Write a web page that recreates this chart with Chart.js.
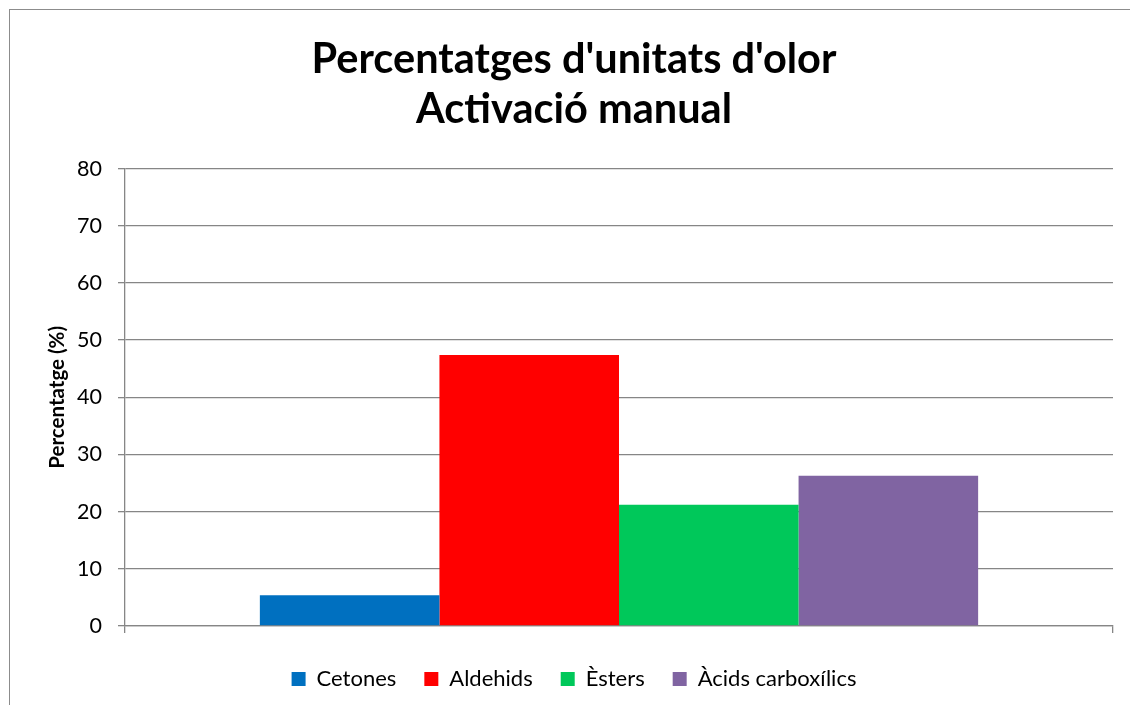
<!DOCTYPE html>
<html>
<head>
<meta charset="utf-8">
<script src="https://cdn.jsdelivr.net/npm/chart.js@4"></script>
<style>
  html, body { margin: 0; padding: 0; background: #fff; overflow: hidden; }
  #wrap { position: relative; width: 1130px; height: 705px; }
  #frame { position: absolute; left: 9px; top: 9px; width: 1300px; height: 900px; border: 1px solid #8c8c8c; }
  canvas { position: absolute; left: 0; top: 0; }
</style>
</head>
<body>
<div id="wrap">
  <div id="frame"></div>
  <canvas id="chart" width="1130" height="705"></canvas>
</div>
<script>
const categories = [''];
const seriesNames = ['Cetones', 'Aldehids', 'Èsters', 'Àcids carboxílics'];
const seriesValues = [[5.4], [47.4], [21.2], [26.3]];
const seriesColors = ['#0070c0', '#ff0000', '#00c85a', '#8064a2'];
const titleLines = ["Percentatges d'unitats d'olor", 'Activació manual'];
const yTitle = 'Percentatge (%)';

const FONT = 'Lato, "Open Sans", sans-serif';
const GRID = '#868686';

const datasets = seriesNames.map((name, i) => ({
  label: name,
  data: seriesValues[i],
  backgroundColor: seriesColors[i],
  borderWidth: 0,
  categoryPercentage: 0.727,
  barPercentage: 1.0
}));

new Chart(document.getElementById('chart').getContext('2d'), {
  type: 'bar',
  data: { labels: categories, datasets: datasets },
  options: {
    responsive: false,
    animation: false,
    layout: { padding: { left: 35, right: 17, top: 10, bottom: 5 } },
    plugins: {
      title: {
        display: true,
        text: titleLines,
        color: '#000',
        font: { family: FONT, size: 41.5, weight: 'bold', lineHeight: 1.2 },
        padding: { top: 25, bottom: 34 }
      },
      legend: {
        position: 'bottom',
        labels: {
          color: '#000',
          font: { family: FONT, size: 22 },
          boxWidth: 14,
          boxHeight: 14,
          padding: 28
        }
      },
      tooltip: { enabled: false }
    },
    scales: {
      x: {
        grid: { drawOnChartArea: false, color: GRID, lineWidth: 1.3, tickLength: 7 },
        border: { color: GRID, width: 1.3 },
        ticks: { display: false },
        afterFit: (scale) => { scale.height = 14; }
      },
      y: {
        min: 0,
        max: 80,
        ticks: { stepSize: 10, color: '#000', font: { family: FONT, size: 21.5 }, padding: 16 },
        grid: { color: GRID, lineWidth: 1.3, tickLength: 7 },
        border: { color: GRID, width: 1.3 },
        title: {
          display: true,
          text: yTitle,
          color: '#000',
          font: { family: FONT, size: 20.5, weight: 'bold' },
          padding: { top: 10, bottom: 0 }
        },
        afterFit: (scale) => { scale.width = 90; }
      }
    }
  }
});
</script>
</body>
</html>
